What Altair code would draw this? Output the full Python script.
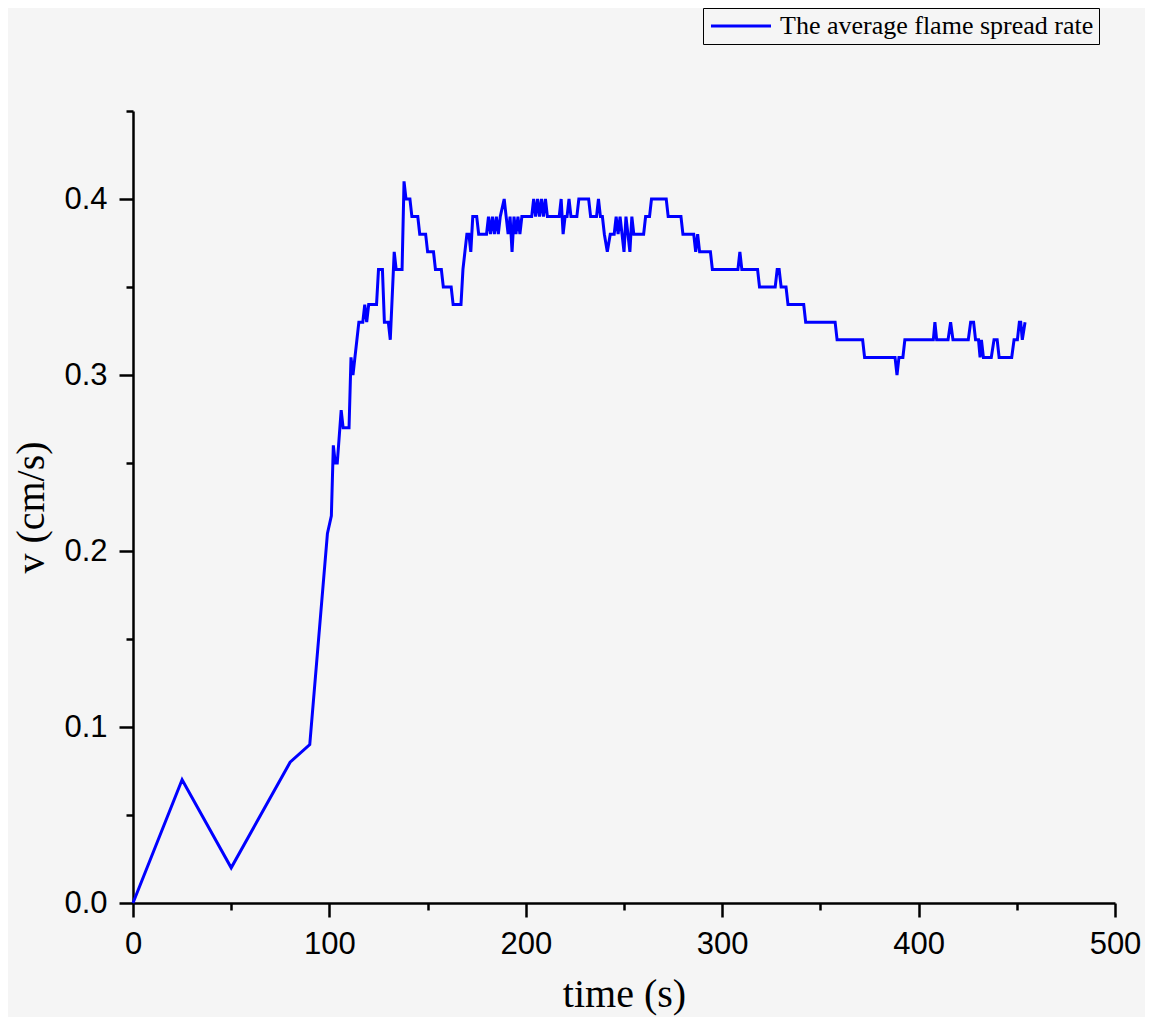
import altair as alt
import pandas as pd

# time (s)
t = [0, 25, 50, 80, 90, 99, 101, 102, 103, 104, 106, 107, 110, 111, 112, 113, 114, 115,
     117, 118, 119, 120, 124, 125, 127, 128, 130, 131, 133, 134, 137, 138, 139, 141, 142,
     145, 146, 149, 150, 153, 154, 157, 158, 162, 163, 167, 168, 170, 171, 172, 173, 175,
     176, 180, 181, 182, 183, 184, 185, 186, 187, 189, 190, 191, 192, 193, 194, 195, 196,
     197, 198, 203, 204, 205, 206, 207, 208, 209, 210, 211, 217, 218, 219, 220, 221, 222,
     223, 226, 227, 232, 233, 236, 237, 238, 239, 240, 241.5, 243, 245, 246, 247, 248,
     249, 250, 251, 252, 253, 254, 255, 260, 261, 263, 264, 271.5, 272.5, 279, 280, 285.5,
     286.5, 287.5, 288.5, 294, 295, 308, 309, 310, 318, 319, 327, 328, 329, 330, 332.5,
     333.5, 341.5, 342.5, 357.5, 358.5, 371.5, 372.5, 388, 389, 390, 392, 393, 407.5,
     408.3, 409.2, 415, 416.3, 417.5, 425.3, 426.5, 428, 429, 430.5, 431.3, 432, 433, 437,
     438.4, 440, 441, 447.4, 448.6, 450.3, 451.3, 452, 452.8, 454.2]
# v (cm/s)
v = [0.00, 0.07, 0.02, 0.08, 0.09, 0.21, 0.22, 0.26, 0.25, 0.25, 0.28, 0.27, 0.27, 0.31,
     0.30, 0.31, 0.32, 0.33, 0.33, 0.34, 0.33, 0.34, 0.34, 0.36, 0.36, 0.33, 0.33, 0.32,
     0.37, 0.36, 0.36, 0.41, 0.40, 0.40, 0.39, 0.39, 0.38, 0.38, 0.37, 0.37, 0.36, 0.36,
     0.35, 0.35, 0.34, 0.34, 0.36, 0.38, 0.38, 0.37, 0.39, 0.39, 0.38, 0.38, 0.39, 0.38,
     0.39, 0.38, 0.39, 0.38, 0.39, 0.40, 0.39, 0.38, 0.39, 0.37, 0.39, 0.38, 0.39, 0.38,
     0.39, 0.39, 0.40, 0.39, 0.40, 0.39, 0.40, 0.39, 0.40, 0.39, 0.39, 0.40, 0.38, 0.39,
     0.39, 0.40, 0.39, 0.39, 0.40, 0.40, 0.39, 0.39, 0.40, 0.39, 0.39, 0.38, 0.37, 0.38,
     0.38, 0.39, 0.38, 0.39, 0.38, 0.37, 0.39, 0.38, 0.37, 0.39, 0.38, 0.38, 0.39, 0.39,
     0.40, 0.40, 0.39, 0.39, 0.38, 0.38, 0.37, 0.38, 0.37, 0.37, 0.36, 0.36, 0.37, 0.36,
     0.36, 0.35, 0.35, 0.36, 0.36, 0.35, 0.35, 0.34, 0.34, 0.33, 0.33, 0.32, 0.32, 0.31,
     0.31, 0.30, 0.31, 0.31, 0.32, 0.32, 0.33, 0.32, 0.32, 0.33, 0.32, 0.32, 0.33, 0.33,
     0.32, 0.32, 0.31, 0.32, 0.31, 0.31, 0.32, 0.32, 0.31, 0.31, 0.32, 0.32, 0.33, 0.33,
     0.32, 0.33]

series_name = "The average flame spread rate"
x_major = [0, 100, 200, 300, 400, 500]
x_minor = [50, 150, 250, 350, 450]
y_major = [0, 0.1, 0.2, 0.3, 0.4]
y_minor = [0.05, 0.15, 0.25, 0.35, 0.45]

df = pd.DataFrame({"t": t, "v": v, "series": [series_name] * len(t)})

x_scale = alt.Scale(domain=[0, 500], nice=False, zero=False)
y_scale = alt.Scale(domain=[0, 0.45], nice=False)

x_axis = alt.Axis(
    orient="bottom", values=x_major, format="d",
    tickSize=14, tickWidth=2.5, tickColor="black",
    domainWidth=2.5, domainColor="black",
    labelFont="Liberation Sans", labelFontSize=31, labelColor="black", labelPadding=12,
    labelFlush=False,
    title="time (s)", titleFont="Liberation Serif", titleFontSize=40,
    titleFontWeight="normal", titleColor="black",
    titleBaseline="alphabetic", titleY=103, grid=False,
)
y_axis = alt.Axis(
    orient="left", values=y_major, format=".1f",
    tickSize=14, tickWidth=2.5, tickColor="black",
    domainWidth=2.5, domainColor="black",
    labelFont="Liberation Sans", labelFontSize=31, labelColor="black", labelPadding=12,
    labelFlush=False,
    title="v (cm/s)", titleFont="Liberation Serif", titleFontSize=40,
    titleFontWeight="normal", titleColor="black",
    titleBaseline="alphabetic", titleX=-90, grid=False,
)
x_axis_minor = alt.Axis(
    orient="bottom", values=x_minor, tickSize=7, tickWidth=2.5, tickColor="black",
    domain=False, labels=False, title=None, grid=False,
)
y_axis_minor = alt.Axis(
    orient="left", values=y_minor, tickSize=7, tickWidth=2.5, tickColor="black",
    domain=False, labels=False, title=None, grid=False,
)

line = alt.Chart(df).mark_line(strokeWidth=3, interpolate="linear").encode(
    x=alt.X("t:Q", scale=x_scale, axis=x_axis),
    y=alt.Y("v:Q", scale=y_scale, axis=y_axis),
    color=alt.Color(
        "series:N",
        scale=alt.Scale(range=["#0000ff"]),
        legend=alt.Legend(
            title=None, orient="none", legendX=570, legendY=-103,
            strokeColor="black", padding=5, fillColor="#f5f5f5",
            symbolType="M-1,0H5", symbolSize=400, symbolStrokeWidth=3,
            symbolStrokeColor="#0000ff", symbolFillColor="transparent",
            labelFont="Liberation Serif", labelFontSize=26, labelColor="black",
            labelOffset=46, labelLimit=0,
        ),
    ),
)

minor = alt.Chart(df).mark_line(opacity=0).encode(
    x=alt.X("t:Q", scale=x_scale, axis=x_axis_minor),
    y=alt.Y("v:Q", scale=y_scale, axis=y_axis_minor),
)

chart = alt.layer(line, minor).resolve_axis(
    x="independent", y="independent"
).properties(
    width=982, height=792,
    autosize=alt.AutoSizeParams(type="none"),
    padding={"left": 125, "top": 103, "right": 30, "bottom": 114},
).configure(
    background="#f5f5f5",
).configure_view(
    stroke=None,
)

chart.save("out.html", embed_options={"renderer": "svg", "actions": False})
